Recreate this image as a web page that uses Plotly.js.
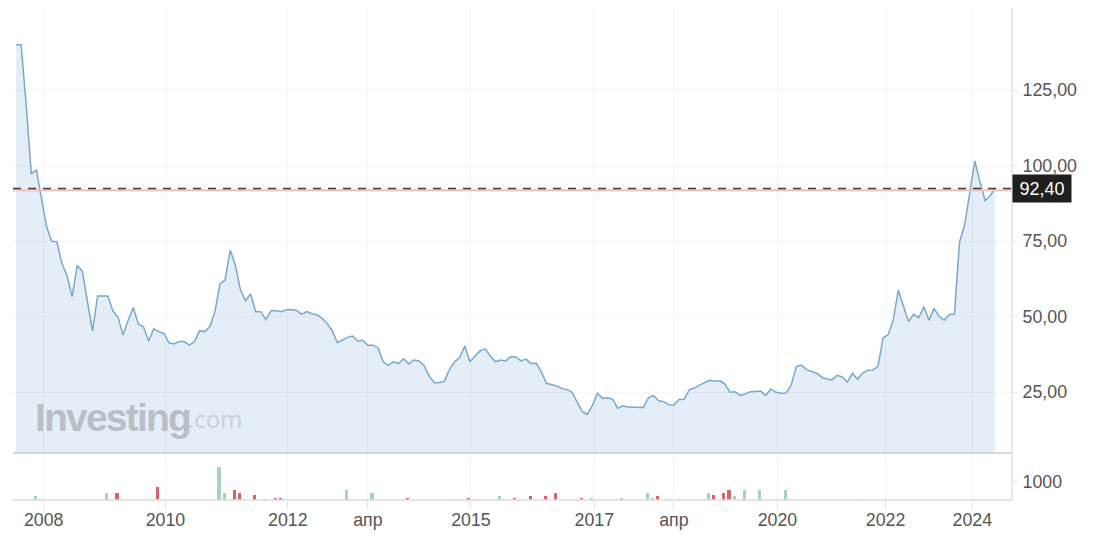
<!DOCTYPE html>
<html>
<head>
<meta charset="utf-8">
<script src="https://cdn.plot.ly/plotly-3.0.1.min.js"></script>
<style>html,body{margin:0;padding:0;background:#fff}#chart{width:1110px;height:539px}</style>
</head>
<body>
<div id="chart"></div>
<script>
const price = [140,140,120,97.2,98.5,88.6,79.7,74.9,74.8,67.6,63.5,56.6,66.9,65,54.4,45.2,56.8,56.8,56.8,51.8,49.7,43.9,48.8,52.9,47.5,46.6,41.9,45.9,45,44.4,41.3,40.9,41.7,41.7,40.5,41.7,45.3,45,46.6,51.6,60.8,62.1,72,67,58.8,55.2,57.5,51.6,51.6,49,51.9,51.9,51.6,52.2,52.3,52,50.7,51.6,50.9,50.6,49.4,47.7,45.3,41.3,42.2,43.1,43.5,41.9,42.1,40.5,40.5,39.6,35,33.8,35,34.4,36,34.3,35.6,35.3,33.8,30.3,28.1,28.1,28.6,32.5,35,36.4,40.2,35,36.9,38.6,39.3,36.9,35,35.6,35.3,36.7,36.6,35.3,35.9,34.4,34.5,31.7,27.9,27.4,27,26.2,25.8,25,22,18.6,17.6,20.5,24.6,22.9,23.1,22.6,19.6,20.4,20,20,20.1,19.9,23.1,23.8,22.1,21.8,20.8,20.7,22.5,22.6,25.7,26.3,27.3,28,28.9,28.6,28.7,27.6,24.9,25.1,23.8,24.4,25.1,25.2,25.3,23.9,26,24.9,24.6,24.7,27.3,33.4,33.9,32.4,31.7,31.2,29.9,29.3,29,30.5,30,28.3,31.2,29.2,31.3,32.2,32.3,33.4,42.8,44,48.8,58.7,53.5,48.3,50.7,49.6,53.2,48.8,52.7,50,48.8,50.7,50.8,74.6,80.3,90.8,101.5,94.6,88.4,90,92.4];
const volIndex = [4,18,20,28,40,41,43,44,47,49,51,52,65,70,77,86,87,89,90,91,95,98,101,104,106,111,113,119,124,125,126,128,130,136,137,139,140,141,143,146,151,166];
const volValue = [235,378,378,720,1767,378,560,378,288,54,126,126,560,378,126,36,36,126,54,54,235,126,235,235,396,126,126,108,378,90,216,54,54,378,288,378,540,235,540,540,540,54];
const volDown = [0,0,1,1,0,0,1,1,1,1,1,1,0,0,1,0,0,1,0,0,0,1,1,1,1,1,0,0,0,0,1,0,0,0,1,1,1,0,0,0,0,0];
const xTickPos = [5.43,29.3,53.3,69,89.2,113.4,129,149.3,170.5,187.5];
const xTickText = ['2008','2010','2012','апр','2015','2017','апр','2020','2022','2024'];
const priceTickVals = [25,50,75,100,125];
const priceTickText = ['25,00','50,00','75,00','100,00','125,00'];
const lastValue = 92.4, lastLabel = '92,40', closeLine = 91.8;
const idx = price.map((_, i) => i);

const tickFont = {family:'"Liberation Sans", Arial, sans-serif', size:17.8, color:'#555'};
const data = [
 {type:'scatter', mode:'lines', x:idx, y:price, xaxis:'x', yaxis:'y', fill:'tozeroy',
  fillcolor:'rgba(100,150,200,0.17)', line:{color:'#78a9cd', width:1.5}, hoverinfo:'skip'},
 {type:'bar', x:volIndex, y:volValue, xaxis:'x', yaxis:'y2', width:0.6, offset:-0.5,
  marker:{color:volDown.map(d => d ? '#d9636f' : '#a8d3ba'), line:{width:0}}, hoverinfo:'skip'}
];
const layout = {
 width:1110, height:539, showlegend:false, paper_bgcolor:'#fff', plot_bgcolor:'#fff',
 margin:{l:13, r:98, t:8, b:39}, bargap:0,
 xaxis:{domain:[0,1], range:[-0.59,195.29], anchor:'y2', tickmode:'array', tickvals:xTickPos, ticktext:xTickText,
   showgrid:true, gridcolor:'#f3f4f6', gridwidth:1, zeroline:false, showline:false,
   ticks:'outside', ticklen:8, tickcolor:'#e2e2e2', tickfont:tickFont, ticklabelstandoff:-4},
 yaxis:{domain:[0.0955,1], range:[4.8,152.15], side:'right', tickmode:'array', tickvals:priceTickVals, ticktext:priceTickText,
   showgrid:true, gridcolor:'#f5f6f8', gridwidth:1, zeroline:false, showline:false,
   ticks:'outside', ticklen:4, tickcolor:'#e8e8e8', tickfont:tickFont, ticklabelstandoff:2},
 yaxis2:{domain:[0,0.0955], range:[0,2540], side:'right', anchor:'x', tickmode:'array', tickvals:[1000], ticktext:['1000'],
   showgrid:false, zeroline:false, showline:false,
   ticks:'outside', ticklen:4, tickcolor:'#e2e2e2', tickfont:tickFont, ticklabelstandoff:2},
 shapes:[
  {type:'line', xref:'paper', yref:'y', x0:0, x1:1, y0:closeLine, y1:closeLine, line:{color:'#f5bcbc', width:2}},
  {type:'line', xref:'paper', yref:'y', x0:0, x1:1, y0:lastValue, y1:lastValue, line:{color:'#3a3a3a', width:1.5, dash:'8px,7px'}},
  {type:'line', xref:'paper', yref:'paper', x0:0, x1:1, y0:0.0955, y1:0.0955, line:{color:'#c9cbce', width:1.6}},
  {type:'line', xref:'paper', yref:'paper', x0:0, x1:1, y0:0, y1:0, line:{color:'#dcdddf', width:1.5}},
  {type:'line', xref:'paper', yref:'paper', x0:1, x1:1, y0:0, y1:1, line:{color:'#e0e0e0', width:1.5}}
 ],
 annotations:[
  {xref:'paper', yref:'y', x:1, y:lastValue, xanchor:'left', yanchor:'middle', showarrow:false, text:lastLabel,
   width:58, height:27, bgcolor:'#1f1f1f', borderpad:0, align:'center',
   font:{family:'"Liberation Sans", Arial, sans-serif', size:18, color:'#fff'}},
  {xref:'paper', yref:'paper', x:0.0205, y:0.168, xanchor:'left', yanchor:'middle', showarrow:false,
   text:'<b><span style="letter-spacing:-1.8px">Investing</span></b>',
   font:{family:'"Liberation Sans", Arial, sans-serif', size:39, color:'#b9bfc6'}},
  {xref:'paper', yref:'paper', x:0.1735, y:0.165, xanchor:'left', yanchor:'middle', showarrow:false,
   text:'.com', font:{family:'"Open Sans", sans-serif', size:24, color:'#c9d0d8'}}
 ]
};
Plotly.newPlot('chart', data, layout, {staticPlot:true, displayModeBar:false});
</script>
</body>
</html>
